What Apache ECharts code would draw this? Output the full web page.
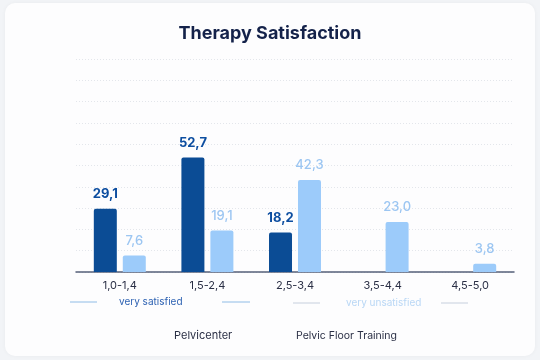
<!DOCTYPE html>
<html>
<head>
<meta charset="utf-8">
<script src="https://cdn.jsdelivr.net/npm/echarts@6/dist/echarts.min.js"></script>
<style>
  html, body { margin: 0; padding: 0; background: #f2f4f7; }
  #main { width: 540px; height: 360px; }
</style>
</head>
<body>
<div id="main"></div>
<script>
var myChart = echarts.init(document.getElementById('main'));

var ranges = ['1,0-1,4', '1,5-2,4', '2,5-3,4', '3,5-4,4', '4,5-5,0'];
var pelvicenter = [29.1, 52.7, 18.2, null, null];
var floorTraining = [7.6, 19.1, 42.3, 23.0, 3.8];

var darkBlue = '#0b4c95';
var lightBlue = '#9ccbfa';
var font = 'Inter';

// comma as decimal separator
function fmt(p) {
    return p.value.toFixed(1).replace('.', ',');
}

var option = {
    backgroundColor: '#f2f4f7',
    textStyle: { fontFamily: font },
    title: {
        text: 'Therapy Satisfaction',
        left: 'center',
        top: 20,
        textStyle: {
            color: '#14224a',
            fontSize: 18,
            fontWeight: 700,
            fontFamily: font
        }
    },
    graphic: [
        {
            type: 'rect',
            left: 5, top: 3, z: -10,
            shape: { width: 530, height: 353, r: 10 },
            style: { fill: '#fdfdfe', shadowBlur: 4, shadowColor: 'rgba(0,0,0,0.04)' }
        },
        { type: 'line', shape: { x1: 70, y1: 302, x2: 97, y2: 302 }, style: { stroke: '#8fbce6', lineWidth: 1 } },
        { type: 'text', left: 119, top: 297, style: { text: 'very satisfied', fill: '#2f63b3', font: '10px Inter' } },
        { type: 'line', shape: { x1: 222, y1: 302, x2: 250, y2: 302 }, style: { stroke: '#8fbce6', lineWidth: 1 } },
        { type: 'line', shape: { x1: 293, y1: 303, x2: 320, y2: 303 }, style: { stroke: '#c6cfdd', lineWidth: 1 } },
        { type: 'text', left: 346, top: 298, style: { text: 'very unsatisfied', fill: '#b9d7f5', font: '10px Inter' } },
        { type: 'line', shape: { x1: 441, y1: 303, x2: 468, y2: 303 }, style: { stroke: '#c6cfdd', lineWidth: 1 } }
    ],
    legend: [
        {
            data: ['Pelvicenter'],
            left: 164, top: 325,
            itemWidth: 0, itemHeight: 0,
            selectedMode: false,
            textStyle: { color: '#2a2f45', fontSize: 11, fontFamily: font }
        },
        {
            data: ['Pelvic Floor Training'],
            left: 286, top: 325,
            itemWidth: 0, itemHeight: 0,
            selectedMode: false,
            textStyle: { color: '#2a2f45', fontSize: 10.5, fontFamily: font }
        }
    ],
    grid: {
        left: 76,
        right: 26,
        top: 59,
        bottom: 88
    },
    xAxis: {
        type: 'category',
        data: ranges,
        axisTick: { show: false },
        axisLine: {
            lineStyle: { color: '#55607a', width: 1.5 }
        },
        axisLabel: {
            color: '#2a2f45',
            fontSize: 11,
            margin: 8,
            fontFamily: font
        }
    },
    yAxis: {
        type: 'value',
        min: 0,
        max: 98,
        interval: 9.8,
        axisLabel: { show: false },
        axisLine: { show: false },
        axisTick: { show: false },
        splitLine: {
            lineStyle: { color: '#e3e6eb', type: [1, 2], width: 1 }
        }
    },
    series: [
        {
            name: 'Pelvicenter',
            type: 'bar',
            data: pelvicenter,
            barWidth: 23,
            barGap: '26%',
            itemStyle: { color: darkBlue, borderRadius: [2, 2, 0, 0] },
            label: {
                show: true,
                position: 'top',
                distance: 8,
                formatter: fmt,
                color: '#0d4ea0',
                fontSize: 13,
                fontWeight: 700,
                fontFamily: font
            }
        },
        {
            name: 'Pelvic Floor Training',
            type: 'bar',
            data: floorTraining,
            barWidth: 23,
            itemStyle: { color: lightBlue, borderRadius: [2, 2, 0, 0] },
            label: {
                show: true,
                position: 'top',
                distance: 8,
                formatter: fmt,
                color: '#9cc6f2',
                fontSize: 13,
                fontWeight: 500,
                fontFamily: font
            }
        }
    ]
};

myChart.setOption(option);
</script>
</body>
</html>
